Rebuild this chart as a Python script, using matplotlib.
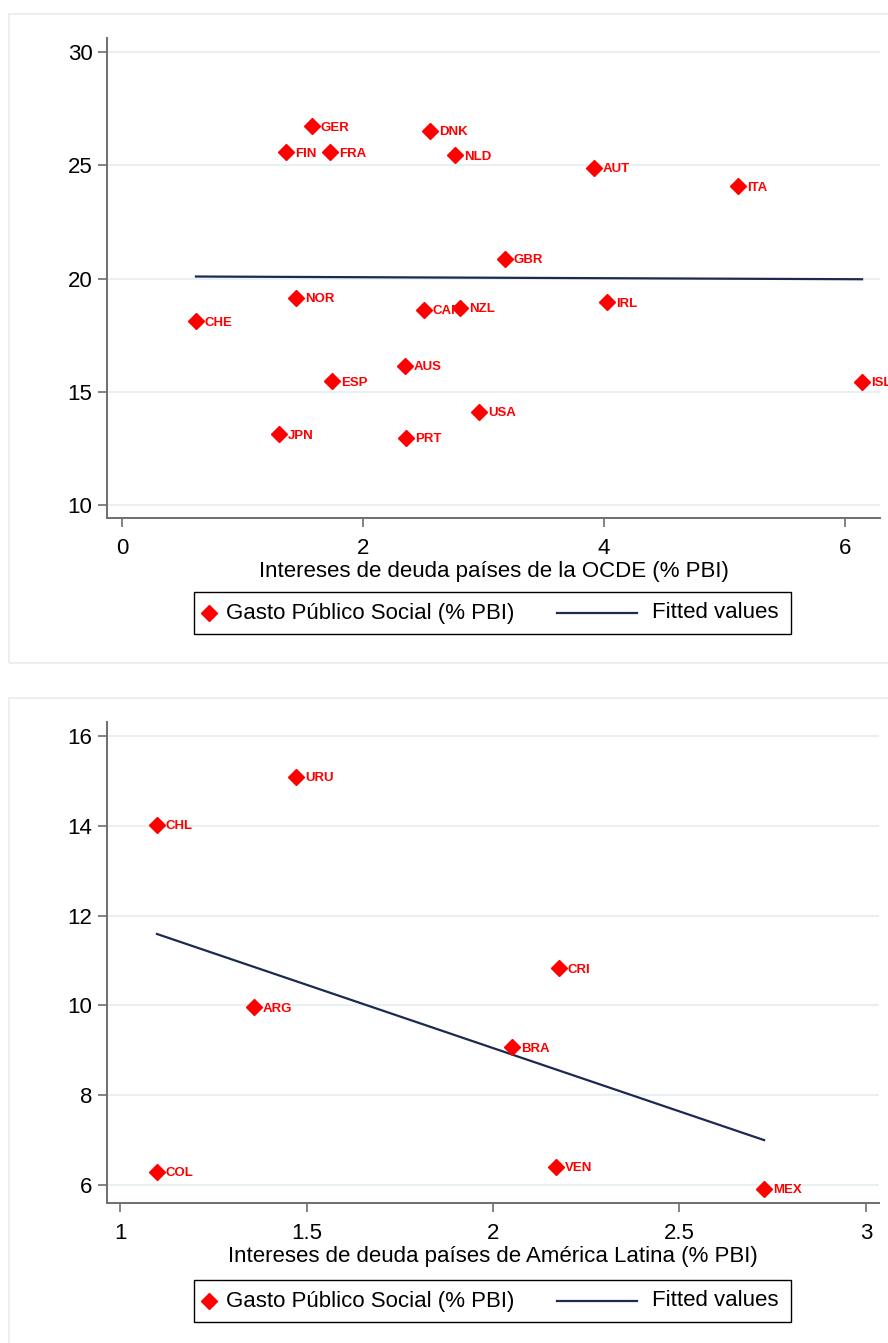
import numpy as np
import matplotlib
matplotlib.use("Agg")
import matplotlib.pyplot as plt
from matplotlib.patches import Rectangle
from matplotlib.lines import Line2D
from matplotlib.offsetbox import AnchoredOffsetbox, HPacker, TextArea, DrawingArea

plt.rcParams["font.family"] = ["Liberation Sans", "DejaVu Sans"]

# OCDE
oecd_codes = ["GER", "DNK", "FIN", "FRA", "NLD", "AUT", "ITA", "GBR", "NOR", "IRL",
              "CHE", "CAN", "NZL", "AUS", "ESP", "ISL", "USA", "JPN", "PRT"]
oecd_interest = [1.577, 2.556, 1.361, 1.726, 2.763, 3.917, 5.112, 3.178, 1.444, 4.025,
                 0.614, 2.506, 2.805, 2.349, 1.743, 6.141, 2.963, 1.303, 2.357]
oecd_social = [26.73, 26.51, 25.58, 25.58, 25.45, 24.88, 24.08, 20.86, 19.14, 18.96,
               18.12, 18.61, 18.70, 16.14, 15.47, 15.43, 14.11, 13.13, 12.96]
oecd_fit_x = [0.614, 6.141]
oecd_fit_y = [20.09, 19.97]

# America Latina
latam_codes = ["URU", "CHL", "CRI", "ARG", "BRA", "VEN", "COL", "MEX"]
latam_interest = [1.472, 1.099, 2.177, 1.359, 2.051, 2.169, 1.099, 2.727]
latam_social = [15.09, 14.02, 10.83, 9.96, 9.07, 6.40, 6.29, 5.91]
latam_fit_x = [1.099, 2.727]
latam_fit_y = [11.59, 7.00]

W, H = 888, 1343
RED = "#ff0000"
NAVY = "#1c2a52"
GRID = "#e8f0f2"
MS = 8.3

fig = plt.figure(figsize=(W / 100, H / 100), dpi=100)


def px_axes(left, top, right, bottom):
    return fig.add_axes([left / W, 1 - bottom / H, (right - left) / W, (bottom - top) / H])


def frame_box(top, bottom):
    fig.patches.append(Rectangle((9 / W, 1 - bottom / H), 900 / W, (bottom - top) / H,
                                 transform=fig.transFigure, fill=False,
                                 edgecolor="#e6eef0", linewidth=1.2))


def add_key(cx, cy):
    p = 0.72  # px -> pt
    da1 = DrawingArea(32 * p, 42 * p)
    da1.add_artist(Line2D([15 * p], [21 * p], marker="D", ms=MS, color=RED, ls="none"))
    t1 = TextArea("Gasto Público Social (% PBI)", textprops=dict(fontsize=16))
    da2 = DrawingArea(138 * p, 42 * p)
    da2.add_artist(Line2D([43 * p, 123 * p], [21 * p, 21 * p], color=NAVY, lw=1.6))
    t2 = TextArea("Fitted values", textprops=dict(fontsize=16))
    da3 = DrawingArea(13 * p, 42 * p)
    pack = HPacker(children=[da1, t1, da2, t2, da3], align="center", pad=0, sep=0)
    box = AnchoredOffsetbox(loc="center", child=pack, pad=0, borderpad=0, frameon=True,
                            bbox_to_anchor=(cx / W, 1 - cy / H),
                            bbox_transform=fig.transFigure)
    box.patch.set_boxstyle("square", pad=0)
    box.patch.set_edgecolor("black")
    box.patch.set_linewidth(1)
    fig.add_artist(box)


def style_axes(ax, yticks, xticks, xlabels):
    for s in ["top", "right"]:
        ax.spines[s].set_visible(False)
    ax.spines["left"].set_color("#6e6e6e")
    ax.spines["bottom"].set_color("#6e6e6e")
    ax.spines["left"].set_linewidth(1.4)
    ax.spines["bottom"].set_linewidth(1.4)
    ax.set_yticks(yticks)
    ax.set_xticks(xticks)
    ax.set_xticklabels(xlabels)
    ax.tick_params(axis="both", direction="out", length=6.5, width=1.2, color="#6e6e6e",
                   labelsize=16)
    ax.tick_params(axis="y", pad=4)
    ax.tick_params(axis="x", pad=8)
    ax.yaxis.grid(True, color=GRID, linewidth=1.5)
    ax.set_axisbelow(True)


def scatter_panel(ax, xs, ys, codes, fx, fy):
    ax.plot(fx, fy, color=NAVY, lw=1.6, zorder=2)
    ax.plot(xs, ys, "D", color=RED, ms=MS, ls="none", zorder=3, clip_on=False)
    for x, y, c in zip(xs, ys, codes):
        ax.annotate(c, (x, y), xytext=(6.3, -1), textcoords="offset points",
                    ha="left", va="center", color=RED, fontsize=9.5,
                    fontweight="bold", annotation_clip=False)


# panel superior
frame_box(14, 663)
ax1 = px_axes(107, 38, 880, 518)
scatter_panel(ax1, oecd_interest, oecd_social, oecd_codes, oecd_fit_x, oecd_fit_y)
ax1.set_xlim(-0.124, 6.290)
ax1.set_ylim(9.43, 30.62)
style_axes(ax1, [10, 15, 20, 25, 30], [0, 2, 4, 6], ["0", "2", "4", "6"])
ax1.set_xlabel("Intereses de deuda países de la OCDE (% PBI)", fontsize=16, labelpad=1)
add_key(492.5, 613)

# panel inferior
frame_box(698, 1346)
ax2 = px_axes(107, 722, 879, 1203)
scatter_panel(ax2, latam_interest, latam_social, latam_codes, latam_fit_x, latam_fit_y)
ax2.set_xlim(0.965, 3.035)
ax2.set_ylim(5.6, 16.31)
style_axes(ax2, [6, 8, 10, 12, 14, 16], [1, 1.5, 2, 2.5, 3], ["1", "1.5", "2", "2.5", "3"])
ax2.set_xlabel("Intereses de deuda países de América Latina (% PBI)", fontsize=16, labelpad=1)
add_key(492.5, 1301)

fig.savefig("out.png", dpi=100)
